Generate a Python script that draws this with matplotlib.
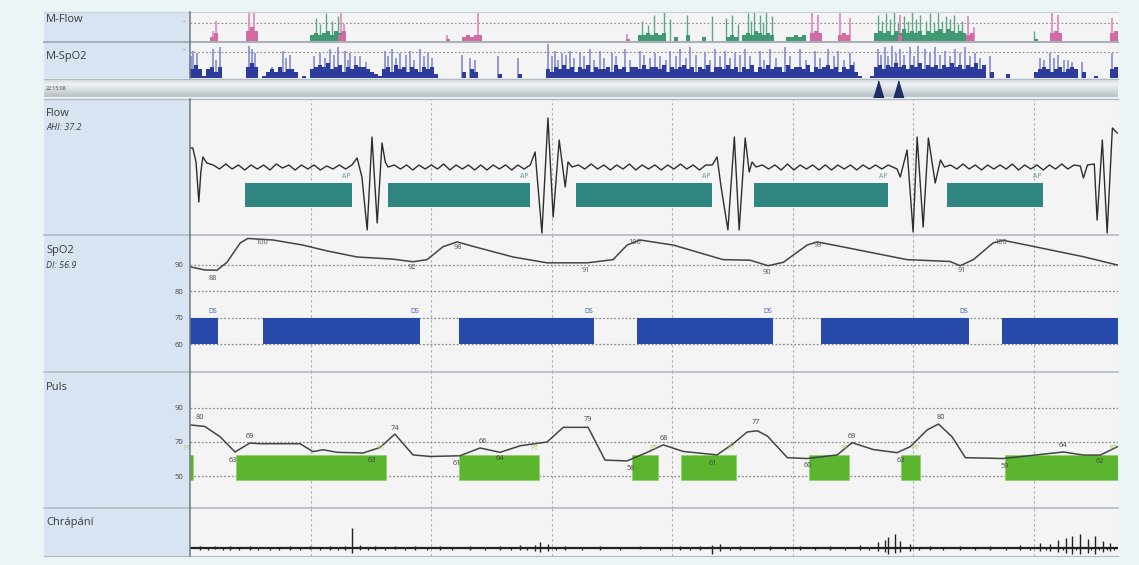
import numpy as np
import matplotlib
matplotlib.use("Agg")
import matplotlib.pyplot as plt
from matplotlib.patches import Rectangle
from matplotlib.colors import to_rgb

plt.rcParams['font.family'] = ['Open Sans', 'DejaVu Sans']

# ======================= DATA =======================
# --- main window, time in seconds ---
window_len = 231
grid_times = [30, 60, 90, 120, 150, 180, 210]

# Flow trace: recovery-breath bursts (t, value) and quiet ripple segments
flow_bursts = [
    [(0.0, 19), (0.7, 19), (1.5, 5), (2.2, -35), (2.7, -5), (3.2, 10), (4.2, 4)],
    [(40.3, 2), (41.6, 9), (42.8, -10), (44.1, -63), (45.3, 30), (46.6, -56), (47.8, 24), (48.6, 5), (49.3, 0)],
    [(84.7, 2), (85.9, 15), (87.6, -66), (89.1, 49), (90.4, -50), (91.9, 27), (93.4, -20), (94.1, 5), (95.1, 0)],
    [(130.0, 2), (131.2, 10), (132.2, -20), (133.9, -63), (135.5, 30), (136.7, -63), (138.2, 29), (139.2, -5),
     (139.9, 5), (140.9, 0)],
    [(173.8, 2), (176.0, -2), (176.8, -10), (178.5, 17), (180.0, -65), (181.0, 30), (182.5, -60), (183.8, 29),
     (185.5, -16), (186.8, 7), (187.8, 0)],
    [(221.6, 1), (222.4, -11), (223.4, 2), (225.1, 3), (225.8, -53), (227.1, 27), (228.3, -66), (229.6, 39),
     (230.8, 34)],
]
flow_ripples = [
    [2, -2, 3, -2, 2, -3, 2, -2, 2, -3, 3, -1, 2, -3, 2, -2, 2, -3, 1, -2, 2, -2],
    [2, -2, 2, -3, 2, -2, 2, -2, 3, -3, 2, -2, 2, -3, 2, -3, 2, -2, 2, -3, 2, -2],
    [2, -2, 3, -2, 2, -3, 2, -2, 3, -3, 2, -2, 2, -3, 2, -2, 3, -2, 2, -3, 2],
    [2, -2, 2, -3, 3, -3, 2, -2, 2, -3, 2, -3, 2, -2, 2, -3, 2, -2, 2, -2],
    [2, -2, 3, -2, 2, -3, 2, -2, 2, -2, 3, -3, 2, -2, 2, -3, 2, -2, 3, -2, 2],
]
apnea_start = [13.7, 49.3, 96.1, 140.4, 188.4]
apnea_end = [40.3, 84.6, 129.9, 173.8, 212.3]
apnea_label = "AP"

# SpO2 trace
spo2_t = [0, 3.7, 6.7, 9.2, 12.5, 14.4, 20.7, 28.1, 34.1, 41.6, 50.5, 55.5, 59.0, 63.0, 66.5, 70.5, 80.4,
          88.9, 98.9, 105.3, 108.8, 111.3, 112.1, 120.3, 132.7, 139.4, 143.9, 147.7, 153.6, 156.1, 161.9,
          178.5, 189.2, 191.7, 195.0, 199.9, 202.4, 209.9, 222.4, 230.8]
spo2_v = [89.3, 88.1, 88.0, 91.0, 98.3, 100, 99.4, 97.5, 95.3, 93.0, 92.2, 91.2, 92.0, 96.9, 98.7, 97.0, 93.0,
          90.8, 90.8, 92.0, 97.5, 99.0, 99.4, 97.5, 92.0, 91.8, 89.7, 91.0, 97.5, 98.7, 97.0,
          92.0, 91.3, 89.7, 92.0, 98.3, 99.3, 97.0, 93.1, 90.0]
spo2_ext_t = [5.7, 17.9, 55.3, 66.7, 98.6, 110.8, 143.7, 156.4, 192.2, 201.7]
spo2_ext_v = [88, 100, 92, 98, 91, 100, 90, 99, 91, 100]
spo2_ext_kind = ['min', 'max', 'min', 'max', 'min', 'max', 'min', 'max', 'min', 'max']
desat_start = [0, 18.2, 67.0, 111.3, 157.1, 202.2]
desat_end = [7.0, 57.3, 100.6, 145.2, 193.9, 231]
desat_labelled = [True, True, True, True, True, False]
desat_label = "DS"
spo2_ticks = [60, 70, 80, 90]

# Pulse trace
puls_t = [0, 3.7, 7.5, 11.2, 14.9, 17.4, 27.4, 30.6, 33.1, 36.6, 43.1, 47.3, 51.0, 55.5, 59.8, 67.2, 72.2,
          77.2, 82.2, 88.9, 92.9, 99.1, 103.3, 108.8, 113.8, 117.8, 122.8, 131.2, 135.2, 138.7, 141.2, 143.7,
          148.7, 153.6, 161.1, 164.8, 170.1, 176.0, 179.3, 183.5, 186.3, 189.7, 193.0, 202.4, 209.9, 217.4,
          222.4, 226.6, 230.8]
puls_v = [79.9, 79.0, 73.0, 64.2, 69.4, 69.0, 69.0, 64.4, 65.5, 64.0, 63.6, 66.8, 74.6, 62.5, 61.6, 62.0, 66.5,
          64.0, 67.8, 70.0, 78.5, 78.5, 59.5, 59.0, 64.0, 68.3, 64.5, 62.5, 69.0, 75.8, 76.5, 73.5,
          60.9, 60.4, 62.5, 69.6, 65.6, 63.8, 67.3, 77.0, 80.4, 73.0, 60.9, 60.4, 62.3, 64.2,
          62.4, 62.4, 67.2]
puls_ext_t = [2.5, 10.7, 14.9, 45.3, 51.0, 66.5, 73.0, 77.2, 99.1, 109.8, 118.0, 130.2, 140.9, 153.9, 164.8,
              177.0, 186.8, 202.9, 217.4, 226.6]
puls_ext_v = [80, 63, 69, 63, 74, 61, 66, 64, 79, 58, 68, 61, 77, 60, 69, 63, 80, 59, 64, 62]
puls_ext_kind = ['max', 'min', 'max', 'min', 'max', 'min', 'max', 'min', 'max', 'min', 'max', 'min', 'max',
                 'min', 'max', 'min', 'max', 'min', 'max', 'min']
pt_start = [0, 11.5, 67.0, 110.1, 122.3, 154.1, 177.0, 202.9]
pt_end = [0.7, 48.8, 86.9, 116.5, 136.0, 164.1, 181.8, 231]
pt_label = "PT"
puls_ticks = [50, 70, 90]

# Snoring: (t, up, down)
snore_t = [2.5, 6.2, 10.0, 14.9, 19.9, 24.9, 29.9, 34.9, 38.6, 40.3, 42.3, 46.1, 51.0, 56.0, 62.2, 69.7, 77.2,
           82.2, 85.9, 87.1, 89.1, 93.4, 102.1, 112.1, 122.0, 127.0, 130.0, 132.0, 137.0, 144.4, 151.9, 159.3,
           166.8, 171.3, 173.0, 173.8, 175.5, 176.7, 179.2, 184.2, 191.7, 199.2, 206.6, 211.6, 214.1, 216.1,
           218.1, 219.6, 221.6, 223.5, 225.3, 227.3, 229.0]
snore_up = [2, 2, 2, 2, 1, 2, 2, 2, 2, 20, 3, 2, 2, 2, 2, 2, 2, 3, 3, 6, 4, 2, 2, 2, 2, 2, 3, 4, 2, 2, 2, 2,
            3, 6, 8, 11, 14, 7, 4, 2, 2, 2, 3, 5, 4, 8, 10, 12, 14, 9, 12, 7, 5]
snore_dn = [-2, -1, -2, -2, -2, -2, -1, -2, -2, -5, -2, -2, -1, -2, -2, -2, -2, -2, -3, -4, -3, -2, -2, -1, -2,
            -2, -6, -3, -2, -2, -2, -2, -2, -3, -4, -6, -5, -4, -3, -2, -2, -2, -2, -3, -3, -4, -5, -6, -6, -5,
            -6, -4, -3]
snore_small_t = [4.5, 8.2, 12.3, 17.0, 22.2, 27.3, 32.4, 36.8, 44.3, 48.6, 53.5, 58.9, 65.3, 73.4, 80.0, 84.0,
                 91.0, 97.5, 107.0, 117.0, 124.5, 134.5, 140.5, 148.0, 155.5, 163.0, 169.0, 181.5, 187.5,
                 195.5, 203.0, 209.0, 213.0, 217.2, 220.6, 224.4, 226.3, 228.2, 230.0]

# --- Overview (whole night), 232 epochs ---
ov_len = 232
spo2_ov_segments = {0: "464", 3: "1", 4: "4535", 14: "575", 18: "1", 19: "34353443", 28: "1",
                    30: "4565745635465543", 46: "21", 48: "45364535435452", 68: "30430", 77: "2", 82: "2",
                    89: "435464535463544536453554645546354564535463554645354635464553645546354564535463",
                    167: "1001", 171: "5646575646574656465756465746", 200: "3", 204: "2",
                    211: "34543453454", 223: "3", 226: "1", 230: "45"}
spo2_ov_spk_u = [0.75, 1.75, 5.75, 7.5, 14.75, 15.5, 16.25, 23.25, 25, 32.5, 35, 37, 38.75, 40, 42.5, 48.75,
                 50.5, 52.5, 55, 57.5, 59.5, 68, 70, 71.25, 77, 82, 89.5, 91.25, 93, 95, 97.5, 100, 102.5,
                 105.5, 108.75, 112.5, 116.25, 120, 122.5, 125, 128.75, 131.25, 133.75, 136.25, 138.75, 142.5,
                 145, 148.75, 152.5, 156.25, 159.5, 162, 165, 172, 173.75, 175.5, 177.5, 180, 182, 183.75,
                 186.25, 188.75, 191.25, 193.75, 196.25, 200, 212.5, 215, 217, 219.5, 223, 230.5,
                 0.25, 6.5, 20.5, 24, 31, 33.75, 36, 39.5, 41.25, 44, 49.5, 51.5, 54, 56, 58.5, 60.5, 90.5,
                 92, 94, 96, 98.5, 101, 103.5, 106.5, 110, 113.5, 115, 117.5, 119, 121.5, 124, 126.5, 130,
                 132.5, 135, 137.5, 140, 143.5, 146.5, 150, 154, 157.5, 161, 163.5, 166, 172.75, 174.5,
                 176.5, 178.5, 181, 185, 187.5, 190, 192.5, 195, 197.5, 213.5, 216, 218.5, 220.5]
spo2_ov_spk_h = [0.75, 0.7, 0.8, 0.85, 0.9, 0.8, 0.7, 0.75, 0.65, 0.7, 0.8, 0.85, 0.75, 0.7, 0.6, 0.75, 0.8,
                 0.7, 0.75, 0.8, 0.7, 0.65, 0.55, 0.5, 0.6, 0.55, 0.95, 0.75, 0.7, 0.75, 0.7, 0.8, 0.75, 0.7,
                 0.8, 0.75, 0.7, 0.75, 0.8, 0.85, 0.7, 0.8, 0.75, 0.7, 0.8, 0.75, 0.8, 0.85, 0.8, 0.75, 0.8,
                 0.75, 0.7, 0.8, 0.85, 0.9, 0.8, 0.85, 0.9, 0.8, 0.85, 0.75, 0.8, 0.85, 0.7, 0.6, 0.55, 0.7,
                 0.65, 0.5, 0.45, 0.7,
                 0.6, 0.5, 0.3, 0.55, 0.6, 0.55, 0.65, 0.5, 0.6, 0.45, 0.6, 0.55, 0.65, 0.5, 0.6, 0.55, 0.6,
                 0.5, 0.65, 0.55, 0.6, 0.5, 0.55, 0.6, 0.5, 0.65, 0.55, 0.6, 0.5, 0.6, 0.55, 0.65, 0.5,
                 0.6, 0.55, 0.65, 0.6, 0.5, 0.55, 0.6, 0.5, 0.55, 0.6, 0.5, 0.45, 0.65, 0.6, 0.7, 0.65,
                 0.6, 0.7, 0.65, 0.6, 0.7, 0.6, 0.55, 0.5, 0.55, 0.5, 0.45]
flow_ov_green_segments = {30: "343453543", 112: "3343434", 121: "2", 124: "3", 128: "2", 134: "232",
                          138: "34354343", 149: "22323", 171: "45453546454535456465454", 211: "1"}
flow_ov_pink_segments = {5: "24", 14: "575", 37: "35", 64: "1", 68: "2323", 72: "3", 109: "1", 155: "45",
                         157: "4", 162: "343", 177: "3", 194: "34", 215: "454", 230: "45"}
flow_ov_green_spk_u = [31.5, 34, 35.5, 37, 113, 116, 118.5, 120, 124.25, 130.5, 134, 135.5, 137, 139.5, 141,
                       142.5, 144, 145.5, 172, 174, 176, 178.5, 180.5, 182.5, 185, 187, 189, 191, 193, 211,
                       32.5, 114.5, 140.25, 143.25, 173, 175, 177, 179.5, 181.5, 184, 186, 188, 190, 192]
flow_ov_green_spk_h = [0.8, 0.95, 0.7, 0.85, 0.7, 0.9, 1.0, 0.75, 0.9, 0.85, 0.8, 0.9, 0.6, 0.95, 1.0, 0.9,
                       1.0, 0.85, 0.9, 0.95, 1.0, 0.85, 1.0, 0.9, 0.95, 1.0, 0.85, 0.9, 0.7, 0.35,
                       0.6, 0.55, 0.7, 0.65, 0.7, 0.75, 0.65, 0.7, 0.75, 0.7, 0.65, 0.7, 0.75, 0.6]
flow_ov_pink_spk_u = [5.75, 6.5, 14.75, 16, 37.75, 38.5, 64.25, 72, 109.25, 155.5, 157, 162.5, 165, 177.5,
                      194.5, 196, 215.5, 217, 230.5]
flow_ov_pink_spk_h = [0.35, 0.7, 1.0, 1.0, 1.0, 0.6, 0.2, 1.0, 0.25, 1.0, 0.9, 1.0, 0.8, 0.9, 0.85, 0.5,
                      1.0, 0.9, 0.8]
view_window_u = [172, 177]
start_time_text = "22:15:08"

row_labels = ["M-Flow", "M-SpO2", "Flow", "SpO2", "Puls", "Chrápání"]
index_labels = ["AHI: 37.2", "DI: 56.9"]

# ======================= LAYOUT =======================
W, H = 1139, 565
fig = plt.figure(figsize=(W / 100, H / 100), dpi=100)
fig.patch.set_facecolor('#ebf5f5')

def rect(x0, y0, x1, y1):
    return [x0 / W, 1 - y1 / H, (x1 - x0) / W, (y1 - y0) / H]

def fig_rect(x0, y0, x1, y1, color, z=0):
    fig.add_artist(Rectangle((x0 / W, 1 - y1 / H), (x1 - x0) / W, (y1 - y0) / H,
                             transform=fig.transFigure, facecolor=color, edgecolor='none', zorder=z))

def fig_hline(y, x0, x1, color, lw=1.0, z=5):
    fig.add_artist(plt.Line2D([x0 / W, x1 / W], [1 - y / H, 1 - y / H], transform=fig.transFigure,
                              color=color, lw=lw, zorder=z))

def fig_vline(x, y0, y1, color, lw=1.0, z=5):
    fig.add_artist(plt.Line2D([x / W, x / W], [1 - y0 / H, 1 - y1 / H], transform=fig.transFigure,
                              color=color, lw=lw, zorder=z))

LABEL_BG = '#d9e4f2'
PLOT_BG = '#f4f4f4'
SEP = '#b4bac2'
XL, XS, XR = 44, 190, 1118

fig_rect(XL, 12, XS, 78, LABEL_BG)
fig_rect(XL, 99, XS, 556, LABEL_BG)

def style_axes(ax, bg=PLOT_BG):
    ax.set_facecolor(bg)
    for s in ax.spines.values():
        s.set_visible(False)
    ax.tick_params(left=False, bottom=False, labelbottom=False, labelleft=False)

def vgrid(ax):
    for gt in grid_times:
        ax.axvline(gt, color='#a8a8a8', lw=0.8, ls=(0, (2, 2.5)), zorder=1)

def digits_to_array(segments, n):
    arr = np.zeros(n)
    for s, d in segments.items():
        vals = np.array([int(c) for c in d], dtype=float)
        e = min(n, s + len(vals))
        arr[s:e] = vals[:e - s]
    return arr

# ---------- M-Flow overview ----------
ax_mf = fig.add_axes(rect(XS, 12, XR, 41))
style_axes(ax_mf)
ax_mf.set_xlim(0, ov_len); ax_mf.set_ylim(0, 1)
ax_mf.axhline(0.62, color='#888888', lw=0.8, ls=(0, (1.5, 2)), zorder=1)
u = np.arange(ov_len) + 0.5
g = digits_to_array(flow_ov_green_segments, ov_len) * 0.07
p = digits_to_array(flow_ov_pink_segments, ov_len) * 0.07
ax_mf.vlines(flow_ov_green_spk_u, 0, flow_ov_green_spk_h, color='#5aa888', lw=1.0, zorder=2)
ax_mf.vlines(flow_ov_pink_spk_u, 0, flow_ov_pink_spk_h, color='#e090bd', lw=1.3, zorder=2)
ax_mf.bar(u, g, width=1.0, color='#3f9a74', lw=0, zorder=3)
ax_mf.bar(u, p, width=1.0, color='#d26aa4', lw=0, zorder=3)

# ---------- M-SpO2 overview ----------
ax_ms = fig.add_axes(rect(XS, 42, XR, 78))
style_axes(ax_ms)
ax_ms.set_xlim(0, ov_len); ax_ms.set_ylim(0, 1)
ax_ms.axhline(0.72, color='#888888', lw=0.8, ls=(0, (1.5, 2)), zorder=1)
b = digits_to_array(spo2_ov_segments, ov_len) * 0.06
ax_ms.vlines(spo2_ov_spk_u, 0, spo2_ov_spk_h, color='#7a82cc', lw=1.1, zorder=2)
ax_ms.bar(u, b, width=1.0, color='#2c3b9c', lw=0, zorder=3)

# ---------- time bar ----------
ax_tb = fig.add_axes(rect(XL, 80, XR, 97))
style_axes(ax_tb)
grad = np.array([to_rgb(c) for c in ['#dfe4e8', '#eef1f3', '#e3e7ea', '#d6dce0', '#c9d0d5', '#bcc4ca']])
ax_tb.imshow(grad[:, None, :], aspect='auto', extent=(0, 1, 0, 1), interpolation='bilinear')
ax_tb.set_xlim(0, 1); ax_tb.set_ylim(0, 1)
ax_tb.text(0.002, 0.5, start_time_text, fontsize=3.8, color='#444444', va='center', ha='left')

ax_tw = fig.add_axes(rect(XS, 80, XR, 97))
ax_tw.set_xlim(0, ov_len); ax_tw.set_ylim(0, 1)
ax_tw.axis('off')
ax_tw.plot(view_window_u, [0.5, 0.5], ls='none', marker=[(-3, -5), (3, -5), (0, 5)],
           markersize=12.5, color='#1e2f66', zorder=5)

# ---------- Flow ----------
ax_f = fig.add_axes(rect(XS, 99, XR, 235))
style_axes(ax_f)
ax_f.set_xlim(0, window_len); ax_f.set_ylim(-68, 68)
vgrid(ax_f)
ft, fv = [], []
for i, burst in enumerate(flow_bursts):
    for (t, v) in burst:
        ft.append(t); fv.append(v)
    if i < len(flow_ripples):
        t0 = burst[-1][0]; t1 = flow_bursts[i + 1][0][0]
        vals = flow_ripples[i]
        tt = np.linspace(t0, t1, len(vals) + 2)[1:-1]
        ft.extend(tt); fv.extend(vals)
ax_f.plot(ft, fv, color='#2e2e2e', lw=1.0, zorder=4)
for s, e in zip(apnea_start, apnea_end):
    ax_f.add_patch(Rectangle((s, -40), e - s, 24, facecolor='#2f8580', edgecolor='none', zorder=3))
    ax_f.annotate(apnea_label, (e, -16), xytext=(-1, 3), textcoords='offset pixels', fontsize=5,
                  color='#5a9a98', ha='right', va='bottom', zorder=5)

# ---------- SpO2 ----------
ax_s = fig.add_axes(rect(XS, 235, XR, 372))
style_axes(ax_s)
ax_s.set_xlim(0, window_len); ax_s.set_ylim(49.6, 101.3)
vgrid(ax_s)
for yv in spo2_ticks:
    ax_s.axhline(yv, color='#8a8a8a', lw=0.9, ls=(0, (1.5, 1.5)), zorder=1)
ax_s.set_yticks(spo2_ticks)
ax_s.tick_params(labelleft=True, labelsize=5.5, labelcolor='#444444', pad=1)
for s, e, lab in zip(desat_start, desat_end, desat_labelled):
    ax_s.add_patch(Rectangle((s, 60), e - s, 10, facecolor='#2649aa', edgecolor='none', zorder=3))
    if lab:
        ax_s.annotate(desat_label, (e, 70), xytext=(-1, 3), textcoords='offset pixels', fontsize=5,
                      color='#3c5cb8', ha='right', va='bottom', zorder=5)
ax_s.plot(spo2_t, spo2_v, color='#444444', lw=1.1, zorder=4)
for t, v, k in zip(spo2_ext_t, spo2_ext_v, spo2_ext_kind):
    off = -8 if k == 'min' else -4
    ax_s.annotate(str(v), (t, v), xytext=(0, off), textcoords='offset pixels', fontsize=5.3,
                  color='#555555', ha='center', va='center', zorder=5)

# ---------- Puls ----------
ax_p = fig.add_axes(rect(XS, 372, XR, 508))
style_axes(ax_p)
ax_p.set_xlim(0, window_len); ax_p.set_ylim(31.7, 110.6)
vgrid(ax_p)
for yv in puls_ticks:
    ax_p.axhline(yv, color='#8a8a8a', lw=0.9, ls=(0, (1.5, 1.5)), zorder=1)
ax_p.set_yticks(puls_ticks)
ax_p.tick_params(labelleft=True, labelsize=5.5, labelcolor='#444444', pad=1)
for s, e in zip(pt_start, pt_end):
    ax_p.add_patch(Rectangle((s, 48), e - s, 14.5, facecolor='#5bb52f', edgecolor='#8fd070', lw=0.6,
                             zorder=3))
    ax_p.annotate(pt_label, (e, 62.5), xytext=(-1, 3), textcoords='offset pixels', fontsize=5,
                  color='#9fd35a', ha='right', va='bottom', zorder=5)
ax_p.plot(puls_t, puls_v, color='#444444', lw=1.1, zorder=4)
for t, v, k in zip(puls_ext_t, puls_ext_v, puls_ext_kind):
    off = -6 if k == 'min' else 7
    ax_p.annotate(str(v), (t, v), xytext=(0, off), textcoords='offset pixels', fontsize=5.3,
                  color='#444444', ha='center', va='center', zorder=5)

# ---------- Chrápání ----------
ax_c = fig.add_axes(rect(XS, 508, XR, 556))
style_axes(ax_c)
ax_c.set_xlim(0, window_len); ax_c.set_ylim(-8, 40)
vgrid(ax_c)
ax_c.axhline(0, color='#222222', lw=1.6, zorder=3)
ax_c.vlines(snore_t, snore_dn, snore_up, color='#222222', lw=1.0, zorder=4)
ax_c.vlines(snore_small_t, -1.5, 1.5, color='#222222', lw=0.9, zorder=4)

# ---------- separators & frame ----------
fig_hline(41.5, XL, XR, '#a9b0b8', lw=1.5)
fig_hline(78.5, XL, XR, SEP, lw=1.0)
fig_hline(98.5, XL, XR, SEP, lw=1.0)
for yy in (235, 372, 508):
    fig_hline(yy, XL, XR, SEP, lw=1.2)
fig_hline(12, XL, XR, '#c8d0d8', lw=0.8)
fig_hline(556, XL, XR, SEP, lw=0.8)
fig_vline(XS, 12, 78, '#6f7780', lw=1.1)
fig_vline(XS, 99, 556, '#6f7780', lw=1.1)

# ---------- row labels ----------
lab_y = [20, 57, 113, 250, 387, 522]
for txt, yy in zip(row_labels, lab_y):
    fig.text(46 / W, 1 - yy / H, txt, fontsize=8, color='#3a3a3a', ha='left', va='center')
for txt, yy in zip(index_labels, [128, 265]):
    fig.text(46 / W, 1 - yy / H, txt, fontsize=6.5, color='#3a3a3a', ha='left', va='center', style='italic')
for yy in (22, 50):
    fig.text(186 / W, 1 - yy / H, "--", fontsize=4, color='#555555', ha='right', va='center')

fig.savefig("out.png", dpi=100, facecolor=fig.get_facecolor())
